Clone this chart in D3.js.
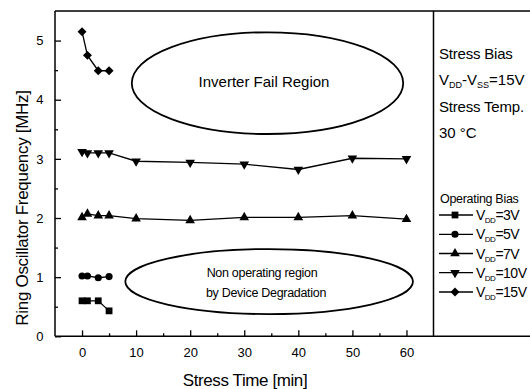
<!DOCTYPE html>
<html>
<head>
<meta charset="utf-8">
<script src="https://cdn.jsdelivr.net/npm/d3@7"></script>
<style>
  html, body { margin: 0; padding: 0; background: #fff; }
  svg { display: block; }
  text { font-family: "Liberation Sans", Arial, sans-serif; fill: #000; }
</style>
</head>
<body>
<svg id="chart" width="530" height="389"></svg>
<script>
// Stress time samples [min]
const stressTimes = [0, 1, 3, 5, 10, 20, 30, 40, 50, 60];
// Ring oscillator frequency [MHz] per operating bias
const freqVdd3  = [0.60, 0.60, 0.60, 0.43];
const freqVdd5  = [1.02, 1.02, 0.99, 1.01];
const freqVdd7  = [2.01, 2.07, 2.04, 2.04, 1.99, 1.96, 2.01, 2.01, 2.04, 1.98];
const freqVdd10 = [3.12, 3.10, 3.10, 3.10, 2.96, 2.94, 2.91, 2.82, 3.01, 3.00];
const freqVdd15 = [5.15, 4.75, 4.49, 4.49];

const seriesLabels = ["3V", "5V", "7V", "10V", "15V"];
const xTicks = [0, 10, 20, 30, 40, 50, 60];
const yTicks = [0, 1, 2, 3, 4, 5];

// Region outlines in data units (time centre, time half-width, freq centre, freq half-height)
const regionNames = [["Inverter Fail Region"], ["Non operating region", "by Device Degradation"]];
const regionCt = [34.3, 34.6];
const regionRt = [25.1, 26.6];
const regionCf = [4.28, 0.925];
const regionRf = [0.86, 0.55];

const svg = d3.select("#chart");
const plotL = 55, plotR = 433.5, plotT = 11, plotB = 336.3, panelR = 530;

const x = d3.scaleLinear().domain([-5, 65]).range([plotL, plotR]);
const y = d3.scaleLinear().domain([0, 5.5]).range([plotB, plotT]);

const series = [
  { vals: freqVdd3,  symbol: d3.symbolSquare,   size: 46, rot: 0 },
  { vals: freqVdd5,  symbol: d3.symbolCircle,   size: 40, rot: 0 },
  { vals: freqVdd7,  symbol: d3.symbolTriangle, size: 40, rot: 0 },
  { vals: freqVdd10, symbol: d3.symbolTriangle, size: 40, rot: 180 },
  { vals: freqVdd15, symbol: d3.symbolSquare,   size: 40, rot: 45 }
];

// Frame: plot box plus the legend panel on the right
const frame = svg.append("g").attr("fill", "none").attr("stroke", "#000").attr("stroke-width", 1.5);
frame.append("line").attr("x1", plotL).attr("x2", panelR).attr("y1", plotT).attr("y2", plotT);
frame.append("line").attr("x1", plotL).attr("x2", panelR).attr("y1", plotB).attr("y2", plotB);
frame.append("line").attr("x1", plotL).attr("x2", plotL).attr("y1", plotT).attr("y2", plotB);
frame.append("line").attr("x1", plotR).attr("x2", plotR).attr("y1", plotT).attr("y2", plotB);

// Axes with inward ticks
const xAxis = svg.append("g").attr("transform", `translate(0,${plotB})`)
  .call(d3.axisBottom(x).tickValues(xTicks).tickFormat(d3.format("d"))
    .tickSize(-6).tickPadding(11).tickSizeOuter(0));
const xMinor = svg.append("g").attr("transform", `translate(0,${plotB})`)
  .call(d3.axisBottom(x).tickValues(d3.range(-5, 66, 5).filter(v => v % 10 !== 0 && v > -5 && v < 65))
    .tickSize(-3).tickFormat("").tickSizeOuter(0));
const yAxis = svg.append("g").attr("transform", `translate(${plotL},0)`)
  .call(d3.axisLeft(y).tickValues(yTicks).tickFormat(d3.format("d"))
    .tickSize(-6).tickPadding(11.5).tickSizeOuter(0));
const yMinor = svg.append("g").attr("transform", `translate(${plotL},0)`)
  .call(d3.axisLeft(y).tickValues(d3.range(0.5, 5.5, 1)).tickSize(-3).tickFormat("").tickSizeOuter(0));

[xAxis, xMinor, yAxis, yMinor].forEach(g => {
  g.select(".domain").remove();
  g.selectAll(".tick line").attr("stroke", "#000").attr("stroke-width", 1.3);
  g.selectAll(".tick text").attr("font-size", 13).attr("fill", "#000")
    .attr("font-family", "'Liberation Sans', Arial, sans-serif");
});

// Axis titles
svg.append("text").attr("x", 245).attr("y", 386).attr("text-anchor", "middle")
  .attr("font-size", 17).attr("letter-spacing", -0.4).text("Stress Time [min]");
svg.append("text").attr("transform", "translate(28,208) rotate(-90)").attr("text-anchor", "middle")
  .attr("font-size", 17).attr("letter-spacing", -0.3).text("Ring Oscillator Frequency [MHz]");

// Regions
const regions = svg.append("g");
regionNames.forEach((lines, i) => {
  regions.append("ellipse")
    .attr("cx", x(regionCt[i])).attr("cy", y(regionCf[i]))
    .attr("rx", x(regionRt[i]) - x(0)).attr("ry", y(0) - y(regionRf[i]))
    .attr("fill", "none").attr("stroke", "#000").attr("stroke-width", 1.8);
});
svg.append("text").attr("x", 264).attr("y", 86.5).attr("text-anchor", "middle")
  .attr("font-size", 15).text(regionNames[0][0]);
svg.append("text").attr("x", 262).attr("y", 277).attr("text-anchor", "middle")
  .attr("font-size", 12.5).attr("letter-spacing", -0.3).text(regionNames[1][0]);
svg.append("text").attr("x", 266).attr("y", 297).attr("text-anchor", "middle")
  .attr("font-size", 12.5).attr("letter-spacing", -0.3).text(regionNames[1][1]);

// Series lines and markers
const line = d3.line().x((d, i) => x(stressTimes[i])).y(d => y(d));
const plot = svg.append("g");
series.forEach(s => {
  plot.append("path").datum(s.vals).attr("d", line)
    .attr("fill", "none").attr("stroke", "#000").attr("stroke-width", 1.3);
  plot.selectAll(null).data(s.vals).enter().append("path")
    .attr("d", d3.symbol().type(s.symbol).size(s.size))
    .attr("transform", (d, i) => `translate(${x(stressTimes[i])},${y(d)}) rotate(${s.rot})`)
    .attr("fill", "#000");
});

// Right panel text
const panel = svg.append("g").attr("font-size", 15);
panel.append("text").attr("x", 439).attr("y", 59).attr("letter-spacing", -0.2).text("Stress Bias");
const bias = panel.append("text").attr("x", 439).attr("y", 85);
bias.append("tspan").text("V");
bias.append("tspan").attr("font-size", 9).attr("dy", 3).text("DD");
bias.append("tspan").attr("dy", -3).text("-V");
bias.append("tspan").attr("font-size", 9).attr("dy", 3).text("SS");
bias.append("tspan").attr("dy", -3).text("=15V");
panel.append("text").attr("x", 439).attr("y", 111.5).attr("letter-spacing", -0.2).text("Stress Temp.");
panel.append("text").attr("x", 439).attr("y", 138).text("30 °C");

svg.append("text").attr("x", 440).attr("y", 203).attr("font-size", 12.5).attr("letter-spacing", -0.3)
  .text("Operating Bias");

const legendY = [215, 234.3, 253.5, 272.7, 292];
series.forEach((s, i) => {
  const g = svg.append("g").attr("transform", `translate(0,${legendY[i]})`);
  g.append("line").attr("x1", 439).attr("x2", 473).attr("stroke", "#000").attr("stroke-width", 1.3);
  g.append("path").attr("d", d3.symbol().type(s.symbol).size(s.size))
    .attr("transform", `translate(455,0) rotate(${s.rot})`).attr("fill", "#000");
  const t = g.append("text").attr("x", 476).attr("y", 5).attr("font-size", 14).attr("letter-spacing", -0.5);
  t.append("tspan").text("V");
  t.append("tspan").attr("font-size", 8).attr("dy", 3).text("DD");
  t.append("tspan").attr("dy", -3).text("=" + seriesLabels[i]);
});
</script>
</body>
</html>
